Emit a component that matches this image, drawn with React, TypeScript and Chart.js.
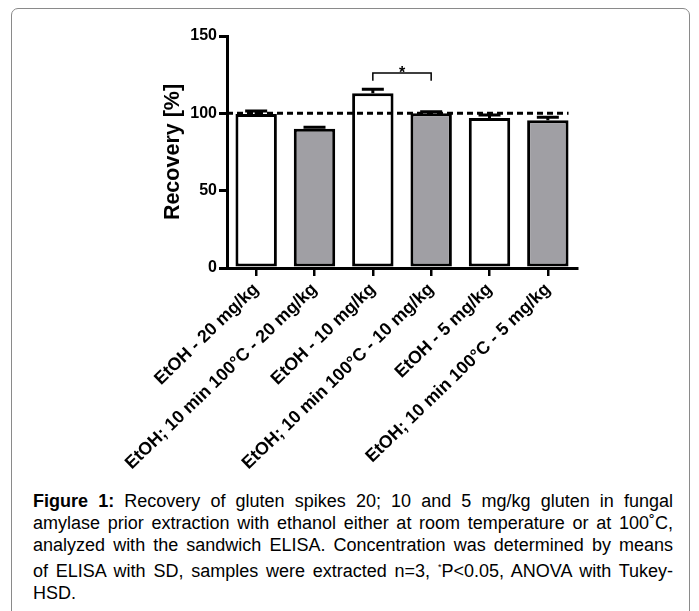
import React, { useEffect, useRef } from "react";
import { Chart, registerables } from "chart.js";

Chart.register(...registerables);

// ---- data ----
const categories = [
  "EtOH - 20 mg/kg",
  "EtOH; 10 min 100°C - 20 mg/kg",
  "EtOH - 10 mg/kg",
  "EtOH; 10 min 100°C - 10 mg/kg",
  "EtOH - 5 mg/kg",
  "EtOH; 10 min 100°C - 5 mg/kg",
];
const recovery = [99.5, 90, 113, 100, 97, 95.5];
const sd = [2, 1, 2.5, 1, 2, 2];
const heated = [false, true, false, true, false, true];
const referenceLevel = 100;
const significantPair = [2, 3];
const bracketLevel = 126;
const bracketDrop = 5;
const significanceLabel = "*";
const yMin = 0;
const yMax = 150;
const yStep = 50;
const yTitle = "Recovery [%]";

const captionBold = "Figure 1:";
const captionLines = [
  " Recovery of gluten spikes 20; 10 and 5 mg/kg gluten in fungal",
  "amylase prior extraction with ethanol either at room temperature or at 100˚C,",
  "analyzed with the sandwich ELISA. Concentration was determined by means",
  "of ELISA with SD, samples were extracted n=3, ",
  "HSD.",
];

// ---- styles ----
const FONT = "'Liberation Sans', Arial, Helvetica, sans-serif";
const PLAIN_FILL = "#ffffff";
const HEATED_FILL = "#a09fa4";

const overlayPlugin = {
  id: "overlay",
  afterDatasetsDraw(chart: any) {
    const ctx = chart.ctx;
    const y = chart.scales.y;
    const meta = chart.getDatasetMeta(0);
    const bars = meta.data;
    ctx.save();
    ctx.strokeStyle = "#000";
    ctx.lineWidth = 3;
    ctx.setLineDash([]);
    bars.forEach((bar: any, i: number) => {
      const top = y.getPixelForValue(recovery[i] + sd[i]);
      const base = y.getPixelForValue(recovery[i]);
      const half = 11;
      ctx.beginPath();
      ctx.moveTo(bar.x, base);
      ctx.lineTo(bar.x, top);
      ctx.moveTo(bar.x - half, top);
      ctx.lineTo(bar.x + half, top);
      ctx.stroke();
    });
    const last = bars[bars.length - 1];
    const ry = y.getPixelForValue(referenceLevel);
    ctx.setLineDash([6, 4]);
    ctx.lineWidth = 3;
    ctx.beginPath();
    ctx.moveTo(chart.chartArea.left, ry);
    ctx.lineTo(last.x + last.width / 2, ry);
    ctx.stroke();
    ctx.setLineDash([]);
    ctx.lineWidth = 1.5;
    const a = bars[significantPair[0]];
    const b = bars[significantPair[1]];
    const by = y.getPixelForValue(bracketLevel);
    const bd = y.getPixelForValue(bracketLevel - bracketDrop);
    ctx.beginPath();
    ctx.moveTo(a.x, bd);
    ctx.lineTo(a.x, by);
    ctx.lineTo(b.x, by);
    ctx.lineTo(b.x, bd);
    ctx.stroke();
    ctx.fillStyle = "#000";
    ctx.font = `bold 16px ${FONT}`;
    ctx.textAlign = "center";
    ctx.textBaseline = "alphabetic";
    ctx.fillText(significanceLabel, (a.x + b.x) / 2, by + 5);
    ctx.restore();
  },
};

export default function App() {
  const ref = useRef<HTMLCanvasElement | null>(null);
  useEffect(() => {
    if (!ref.current) return;
    const chart = new Chart(ref.current, {
      type: "bar",
      data: {
        labels: categories,
        datasets: [
          {
            data: recovery,
            backgroundColor: heated.map((h) => (h ? HEATED_FILL : PLAIN_FILL)),
            borderColor: "#000",
            borderWidth: 3,
            borderSkipped: false,
            categoryPercentage: 1,
            barPercentage: 0.71,
          },
        ],
      },
      options: {
        responsive: false,
        animation: false,
        layout: { padding: { left: 0, top: 36, right: 122, bottom: 0 } },
        plugins: { legend: { display: false }, tooltip: { enabled: false } },
        scales: {
          x: {
            type: "category",
            grid: {
              offset: false,
              drawOnChartArea: false,
              drawTicks: true,
              tickLength: 8,
              color: "#000",
              lineWidth: 2.5,
            },
            border: { display: true, color: "#000", width: 3 },
            ticks: {
              color: "#000",
              font: { family: FONT, size: 17.75, weight: "bold" },
              minRotation: 44,
              maxRotation: 44,
              autoSkip: false,
              padding: 3,
            },
            afterFit: (s: any) => {
              s.height = 480 - 268;
            },
          },
          y: {
            min: yMin,
            max: yMax,
            ticks: {
              stepSize: yStep,
              color: "#000",
              font: { family: FONT, size: 16, weight: "bold" },
              padding: 2,
            },
            grid: {
              drawOnChartArea: false,
              drawTicks: true,
              tickLength: 8,
              color: "#000",
              lineWidth: 3,
            },
            border: { display: true, color: "#000", width: 3 },
            title: {
              display: true,
              text: yTitle,
              color: "#000",
              font: { family: FONT, size: 21.5, weight: "bold" },
              padding: { top: 160, bottom: 0 },
            },
            afterFit: (s: any) => {
              s.width = 227;
            },
          },
        },
      },
      plugins: [overlayPlugin],
    } as any);
    return () => chart.destroy();
  }, []);

  const lineStyle = (last: boolean): React.CSSProperties =>
    ({
      textAlign: last ? "left" : "justify",
      textAlignLast: last ? "left" : "justify",
      whiteSpace: last ? "nowrap" : "normal",
    } as any);

  return (
    <div style={{ position: "absolute", left: 0, top: 0, width: 699, height: 611, overflow: "hidden", background: "#fff" }}>
      <div
        style={{
          position: "absolute",
          left: 11,
          top: 8,
          width: 679,
          height: 640,
          boxSizing: "border-box",
          border: "1px solid #8a8a8a",
          borderRadius: 7,
        }}
      />
      <canvas
        ref={ref}
        width={699}
        height={480}
        style={{ position: "absolute", left: 0, top: 0, width: 699, height: 480, display: "block" }}
      />
      <div
        style={{
          position: "absolute",
          left: 33,
          top: 490,
          width: 640,
          fontFamily: FONT,
          fontSize: 18,
          lineHeight: "22px",
          color: "#000",
        }}
      >
        <div style={lineStyle(false)}>
          <b>{captionBold}</b>
          {captionLines[0]}
        </div>
        <div style={lineStyle(false)}>{captionLines[1]}</div>
        <div style={lineStyle(false)}>{captionLines[2]}</div>
        <div style={lineStyle(false)}>
          {captionLines[3]}
          <span style={{ fontSize: 9, verticalAlign: "super" }}>*</span>P&lt;0.05, ANOVA with Tukey-
        </div>
        <div style={lineStyle(true)}>{captionLines[4]}</div>
      </div>
    </div>
  );
}
